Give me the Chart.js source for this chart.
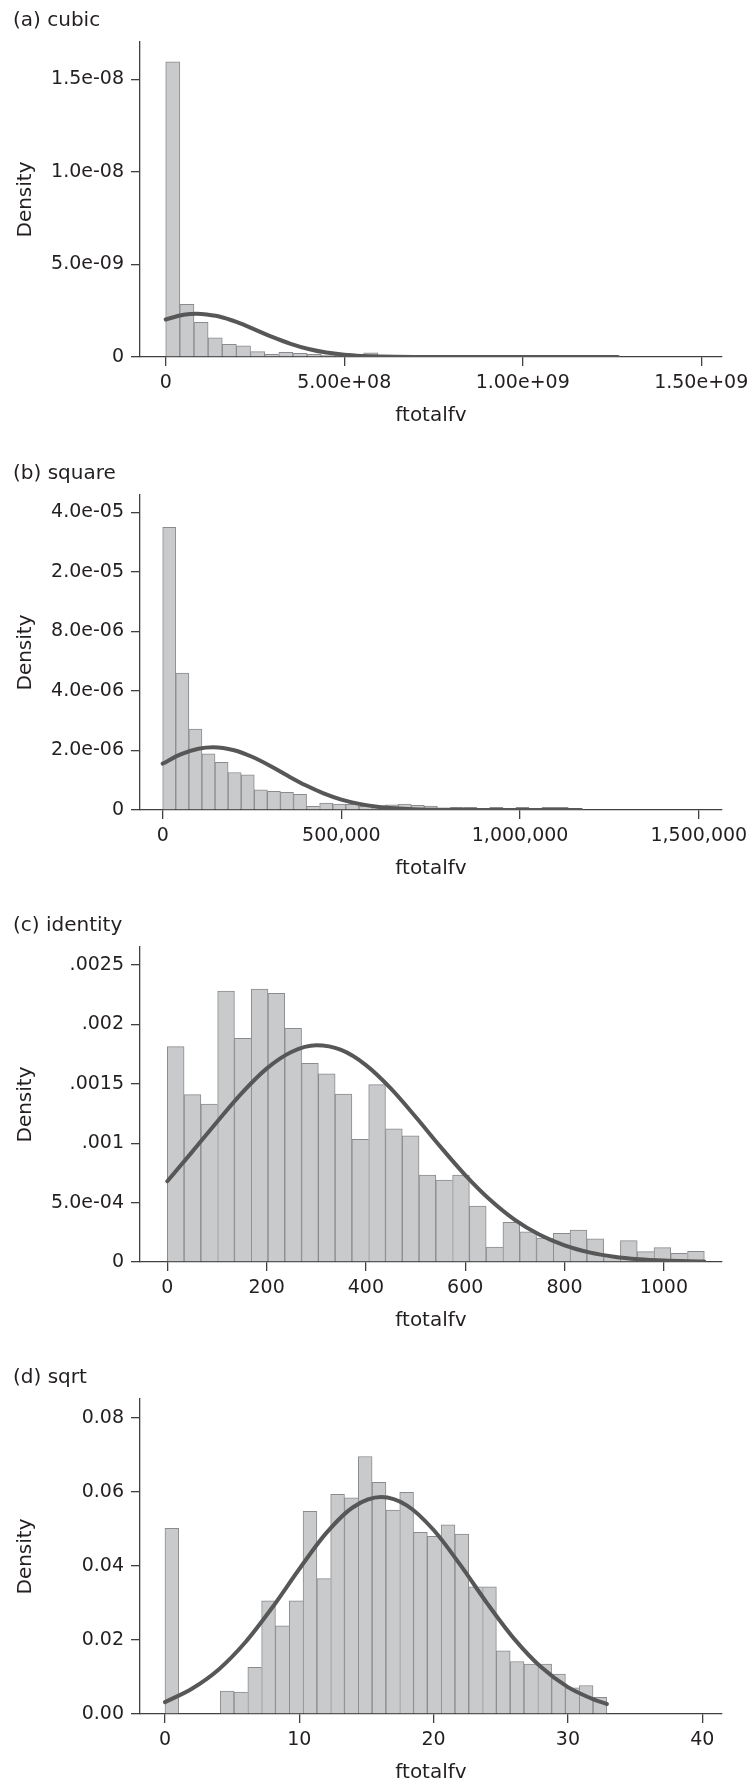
<!DOCTYPE html>
<html><head><meta charset="utf-8">
<script src="https://cdn.jsdelivr.net/npm/chart.js@4.4.1/dist/chart.umd.min.js"></script>
<style>
html,body{margin:0;padding:0;background:#fff;}
#wrap{position:relative;width:753px;height:1785px;overflow:hidden;background:#fff;}
canvas{position:absolute;left:0;}
</style></head><body>
<div id="wrap">
<canvas id="cA" width="753" height="453" style="top:0px;width:753px;height:453px"></canvas>
<canvas id="cB" width="753" height="452" style="top:453px;width:753px;height:452px"></canvas>
<canvas id="cC" width="753" height="452" style="top:905px;width:753px;height:452px"></canvas>
<canvas id="cD" width="753" height="428" style="top:1357px;width:753px;height:428px"></canvas>
</div>
<script>
// ---------- (a) cubic ----------
const aBinCenters = [1.98e7, 5.94e7, 9.90e7, 1.386e8, 1.782e8, 2.178e8, 2.574e8, 2.970e8, 3.366e8, 3.762e8, 4.158e8, 4.554e8, 4.950e8, 5.346e8, 5.742e8, 6.138e8, 6.534e8, 6.930e8, 7.326e8, 7.722e8, 8.118e8, 8.514e8, 8.910e8, 9.306e8, 9.702e8, 1.0098e9, 1.0494e9, 1.0890e9, 1.1286e9, 1.1682e9, 1.2078e9, 1.2474e9];
const aDensity = [1.595e-8, 2.85e-9, 1.87e-9, 1.03e-9, 6.8e-10, 6.1e-10, 2.9e-10, 1.4e-10, 2.5e-10, 2.0e-10, 1.4e-10, 1.1e-10, 1.3e-10, 1.3e-10, 2.3e-10, 1.0e-10, 8e-11, 4e-11, 2e-11, 5e-11, 7e-11, 5e-11, 3e-11, 3e-11, 4e-11, 4e-11, 3.5e-11, 2e-11, 2.5e-11, 2.5e-11, 3e-11, 3.5e-11];
const aCurveX = [0, 5e7, 8.7e7, 1e8, 1.5e8, 2e8, 2.5e8, 3e8, 3.5e8, 4e8, 4.5e8, 5e8, 5.5e8, 6e8, 7e8, 8e8, 1e9, 1.267e9];
const aCurveY = [2.03e-9, 2.28e-9, 2.34e-9, 2.33e-9, 2.19e-9, 1.88e-9, 1.48e-9, 1.07e-9, 7.1e-10, 4.3e-10, 2.4e-10, 1.24e-10, 5.9e-11, 2.5e-11, 4e-12, 6e-13, 0, 0];
const aXTicks = [0, 5e8, 1e9, 1.5e9];
const aXLabels = ['0', '5.00e+08', '1.00e+09', '1.50e+09'];
const aYTicks = [0, 5e-9, 1e-8, 1.5e-8];
const aYLabels = ['0', '5.0e-09', '1.0e-08', '1.5e-08'];

// ---------- (b) square ----------
const bBinCenters = [18300, 54900, 91500, 128100, 164700, 201300, 237900, 274500, 311100, 347700, 384300, 420900, 457500, 494100, 530700, 567300, 603900, 640500, 677100, 713700, 750300, 786900, 823500, 860100, 896700, 933300, 969900, 1006500, 1043100, 1079700, 1116300, 1152900];
const bDensity = [9.50e-6, 4.60e-6, 2.72e-6, 1.89e-6, 1.60e-6, 1.26e-6, 1.18e-6, 6.75e-7, 6.3e-7, 5.95e-7, 5.3e-7, 1.2e-7, 2.3e-7, 2.0e-7, 1.9e-7, 1.2e-7, 1.4e-7, 1.7e-7, 2.0e-7, 1.6e-7, 1.3e-7, 4e-8, 9e-8, 9e-8, 3e-8, 9e-8, 3e-8, 9e-8, 3e-8, 9e-8, 9e-8, 5e-8];
const bCurveX = [0, 50000, 100000, 141000, 200000, 250000, 300000, 350000, 400000, 450000, 500000, 550000, 600000, 650000, 700000, 800000, 900000, 1171000];
const bCurveY = [1.56e-6, 1.87e-6, 2.06e-6, 2.11e-6, 2.01e-6, 1.79e-6, 1.49e-6, 1.15e-6, 8.3e-7, 5.6e-7, 3.5e-7, 2.06e-7, 1.12e-7, 5.7e-8, 2.7e-8, 5e-9, 1e-9, 0];
const bXTicks = [0, 500000, 1000000, 1500000];
const bXLabels = ['0', '500,000', '1,000,000', '1,500,000'];
const bYTicks = [0, 2e-6, 4e-6, 6e-6, 8e-6, 1e-5];
const bYLabels = ['0', '2.0e-06', '4.0e-06', '8.0e-06', '2.0e-05', '4.0e-05'];

// ---------- (c) identity ----------
const cBinCenters = [16.9, 50.7, 84.5, 118.3, 152.1, 185.9, 219.7, 253.5, 287.3, 321.1, 354.9, 388.7, 422.5, 456.3, 490.1, 523.9, 557.7, 591.5, 625.3, 659.1, 692.9, 726.7, 760.5, 794.3, 828.1, 861.9, 895.7, 929.5, 963.3, 997.1, 1030.9, 1064.7];
const cDensity = [0.001813, 0.001409, 0.00133, 0.002281, 0.001883, 0.002298, 0.002262, 0.001967, 0.001672, 0.001585, 0.001414, 0.001033, 0.001493, 0.001122, 0.001063, 0.000732, 0.00069, 0.000732, 0.000471, 0.000126, 0.000334, 0.000253, 0.000202, 0.000241, 0.000269, 0.000196, 0.00005, 0.00018, 0.000087, 0.000121, 0.000073, 0.00009];
const cCurveX = [0, 50, 100, 150, 200, 250, 300, 350, 400, 450, 500, 550, 600, 650, 700, 750, 800, 850, 900, 950, 1000, 1050, 1081.6];
const cCurveY = [0.00068, 0.000927, 0.001179, 0.001422, 0.001628, 0.001768, 0.001824, 0.001785, 0.001658, 0.001462, 0.001223, 0.000971, 0.000732, 0.000524, 0.000355, 0.000229, 0.00014, 0.0000812, 0.0000447, 0.0000234, 0.0000116, 0.0000054, 0.0000033];
const cXTicks = [0, 200, 400, 600, 800, 1000];
const cXLabels = ['0', '200', '400', '600', '800', '1000'];
const cYTicks = [0, 0.0005, 0.001, 0.0015, 0.002, 0.0025];
const cYLabels = ['0', '5.0e-04', '.001', '.0015', '.002', '.0025'];

// ---------- (d) sqrt ----------
const dBinCenters = [0.514, 1.542, 2.570, 3.598, 4.626, 5.654, 6.682, 7.710, 8.738, 9.766, 10.794, 11.822, 12.850, 13.878, 14.906, 15.934, 16.962, 17.990, 19.018, 20.046, 21.074, 22.102, 23.130, 24.158, 25.186, 26.214, 27.242, 28.270, 29.298, 30.326, 31.354, 32.382];
const dDensity = [0.0502, null, null, null, 0.0062, 0.0059, 0.0126, 0.0306, 0.0238, 0.0306, 0.0548, 0.0366, 0.0594, 0.0584, 0.0696, 0.0626, 0.0551, 0.0599, 0.0491, 0.0480, 0.0511, 0.0486, 0.0344, 0.0344, 0.0171, 0.0142, 0.0135, 0.0135, 0.0108, 0.0071, 0.0077, 0.0045];
const dCurveX = [0, 2, 4, 6, 8, 10, 12, 14, 16.1, 18, 20, 22, 24, 26, 28, 30, 32, 32.9];
const dCurveY = [0.0032, 0.00682, 0.01204, 0.01946, 0.02884, 0.0392, 0.04888, 0.05589, 0.05862, 0.05638, 0.04973, 0.04023, 0.02985, 0.02031, 0.01268, 0.00726, 0.00381, 0.0027];
const dXTicks = [0, 10, 20, 30, 40];
const dXLabels = ['0', '10', '20', '30', '40'];
const dYTicks = [0, 0.02, 0.04, 0.06, 0.08];
const dYLabels = ['0.00', '0.02', '0.04', '0.06', '0.08'];

// ---------- styling / builder ----------
Chart.defaults.font.family = "'DejaVu Sans', sans-serif";
Chart.defaults.color = '#231f20';
const AXIS = '#404040';
const BAR_FILL = '#c9cacc';
const BAR_EDGE = '#8a8b8e';
const CURVE = '#575757';

function pairs(xs, ys) { return xs.map((x, i) => ({ x: x, y: ys[i] })); }

function barBorder(ctx) {
  const d = ctx.dataset.data;
  const i = ctx.dataIndex;
  const cur = d[i] ? d[i].y : null;
  const nx = d[i + 1] ? d[i + 1].y : null;
  const right = (nx == null || cur == null || nx < cur) ? 1 : 0;
  return { top: 1, left: 1, right: right, bottom: 0 };
}

function makeChart(id, p) {
  const canvas = document.getElementById(id);
  const H = canvas.height;
  const axisY = 357; // chart-area bottom in canvas pixels
  new Chart(canvas, {
    type: 'bar',
    data: {
      datasets: [
        {
          type: 'line',
          data: pairs(p.curveX, p.curveY),
          borderColor: CURVE,
          borderWidth: 4,
          borderCapStyle: 'round',
          pointRadius: 0,
          fill: false,
          cubicInterpolationMode: 'monotone',
          order: 0
        },
        {
          type: 'bar',
          data: pairs(p.binCenters, p.density),
          backgroundColor: BAR_FILL,
          borderColor: BAR_EDGE,
          borderWidth: barBorder,
          borderSkipped: false,
          barPercentage: 1,
          categoryPercentage: 1,
          grouped: false,
          order: 1
        }
      ]
    },
    options: {
      responsive: false,
      animation: false,
      devicePixelRatio: 1,
      layout: { padding: { left: 13, right: 31, top: 0, bottom: 0 } },
      plugins: {
        legend: { display: false },
        tooltip: { enabled: false },
        title: {
          display: true,
          text: p.title,
          align: 'start',
          color: '#231f20',
          font: { size: 20, weight: 'normal', lineHeight: 1.2 },
          padding: { top: 9, bottom: 9 }
        }
      },
      scales: {
        x: {
          type: 'linear',
          position: 'bottom',
          min: p.xMin,
          max: p.xMax,
          offset: false,
          grid: { display: true, drawOnChartArea: false, drawTicks: true, tickLength: 9, color: AXIS, lineWidth: 1.3, offset: false },
          border: { display: true, color: AXIS, width: 1.3 },
          ticks: {
            autoSkip: false, maxRotation: 0, minRotation: 0, padding: 6,
            font: { size: 19 }, color: '#231f20',
            callback: (v, i) => p.xLabels[i]
          },
          afterBuildTicks: (s) => { s.ticks = p.xTicks.map(v => ({ value: v })); },
          afterFit: (s) => { s.height = H - axisY; s.paddingLeft = 0; s.paddingRight = 0; },
          title: {
            display: true, text: 'ftotalfv', color: '#231f20',
            font: { size: 20, lineHeight: 1.2 },
            padding: { top: 0, bottom: Math.max(0, H - (axisY + 59) - 12) }
          }
        },
        y: {
          type: 'linear',
          position: 'left',
          min: 0,
          max: p.yMax,
          grid: { display: true, drawOnChartArea: false, drawTicks: true, tickLength: 9, color: AXIS, lineWidth: 1.3 },
          border: { display: true, color: AXIS, width: 1.3 },
          ticks: {
            autoSkip: false, padding: 7,
            font: { size: 19 }, color: '#231f20',
            callback: (v, i) => p.yLabels[i]
          },
          afterBuildTicks: (s) => { s.ticks = p.yTicks.map(v => ({ value: v })); },
          afterFit: (s) => { s.width = 127; s.paddingTop = 0; s.paddingBottom = 0; },
          title: {
            display: true, text: 'Density', color: '#231f20',
            font: { size: 20, lineHeight: 1.2 },
            padding: { top: 1, bottom: 0 }
          }
        }
      }
    }
  });
}

makeChart('cA', {
  title: '(a) cubic', binCenters: aBinCenters, density: aDensity, curveX: aCurveX, curveY: aCurveY,
  xTicks: aXTicks, xLabels: aXLabels, yTicks: aYTicks, yLabels: aYLabels,
  xMin: -7.2e7, xMax: 1.5583e9, yMax: 1.7027e-8
});
makeChart('cB', {
  title: '(b) square', binCenters: bBinCenters, density: bDensity, curveX: bCurveX, curveY: bCurveY,
  xTicks: bXTicks, xLabels: bXLabels, yTicks: bYTicks, yLabels: bYLabels,
  xMin: -63500, xMax: 1564900, yMax: 1.0588e-5
});
makeChart('cC', {
  title: '(c) identity', binCenters: cBinCenters, density: cDensity, curveX: cCurveX, curveY: cCurveY,
  xTicks: cXTicks, xLabels: cXLabels, yTicks: cYTicks, yLabels: cYLabels,
  xMin: -55, xMax: 1117.2, yMax: 0.002652
});
makeChart('cD', {
  title: '(d) sqrt', binCenters: dBinCenters, density: dDensity, curveX: dCurveX, curveY: dCurveY,
  xTicks: dXTicks, xLabels: dXLabels, yTicks: dYTicks, yLabels: dYLabels,
  xMin: -1.86, xMax: 41.47, yMax: 0.08514
});
</script>
</body></html>
